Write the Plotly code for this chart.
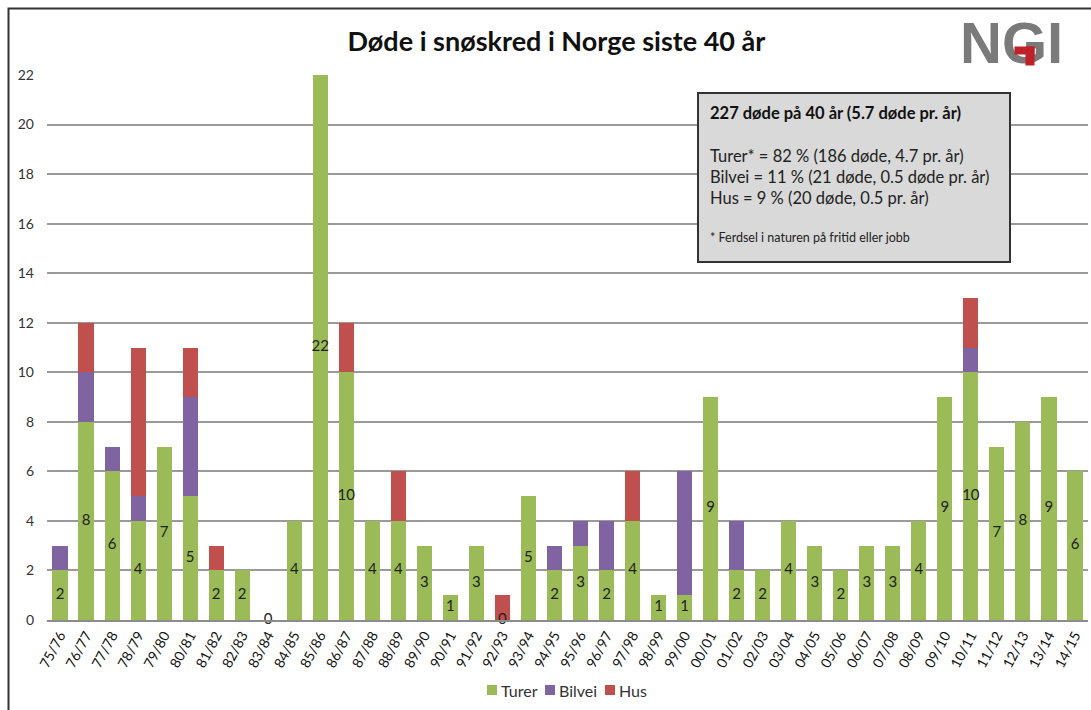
import plotly.graph_objs as go

# Data: deaths in snow avalanches in Norway per season
seasons = ['75/76', '76/77', '77/78', '78/79', '79/80', '80/81', '81/82', '82/83', '83/84', '84/85',
           '85/86', '86/87', '87/88', '88/89', '89/90', '90/91', '91/92', '92/93', '93/94', '94/95',
           '95/96', '96/97', '97/98', '98/99', '99/00', '00/01', '01/02', '02/03', '03/04', '04/05',
           '05/06', '06/07', '07/08', '08/09', '09/10', '10/11', '11/12', '12/13', '13/14', '14/15']
turer = [2, 8, 6, 4, 7, 5, 2, 2, 0, 4,
         22, 10, 4, 4, 3, 1, 3, 0, 5, 2,
         3, 2, 4, 1, 1, 9, 2, 2, 4, 3,
         2, 3, 3, 4, 9, 10, 7, 8, 9, 6]
bilvei = [1, 2, 1, 1, 0, 4, 0, 0, 0, 0,
          0, 0, 0, 0, 0, 0, 0, 0, 0, 1,
          1, 2, 0, 0, 5, 0, 2, 0, 0, 0,
          0, 0, 0, 0, 0, 1, 0, 0, 0, 0]
hus = [0, 2, 0, 6, 0, 2, 1, 0, 0, 0,
       0, 2, 0, 2, 0, 0, 0, 1, 0, 0,
       0, 0, 2, 0, 0, 0, 0, 0, 0, 0,
       0, 0, 0, 0, 0, 2, 0, 0, 0, 0]
y_ticks = list(range(0, 23, 2))
series_names = ['Turer', 'Bilvei', 'Hus']

summary_title = '227 døde på 40 år (5.7 døde pr. år)'
summary_lines = ['Turer* = 82 % (186 døde, 4.7 pr. år)',
                 'Bilvei = 11 % (21 døde, 0.5 døde pr. år)',
                 'Hus = 9 % (20 døde, 0.5 pr. år)']
footnote = '* Ferdsel i naturen på fritid eller jobb'

FONT = 'Lato'
COLORS = ['#9bbb59', '#8064a2', '#c0504d']

W, H = 1091, 710
ML, MR, MT, MB = 47, 3, 75, 90


# pixel -> paper coordinates (for the decorations around the plot)
def px(x):
    return (x - ML) / (W - ML - MR)


def py(y):
    return (H - MB - y) / (H - MT - MB)


fig = go.Figure()

# Stacked bars
for name, vals, col in zip(series_names, [turer, bilvei, hus], COLORS):
    fig.add_trace(go.Bar(x=seasons, y=vals, name=name, showlegend=False,
                         marker=dict(color=col, line=dict(width=0))))

# Value labels in the middle of the green part (also shows the zeros)
fig.add_trace(go.Scatter(x=seasons, y=[t / 2 for t in turer], text=[str(t) for t in turer],
                         mode='text', textfont=dict(family=FONT, size=15, color='#222222'),
                         showlegend=False, hoverinfo='skip', cliponaxis=False))

fig.update_layout(
    width=W, height=H,
    barmode='stack', bargap=0.42,
    plot_bgcolor='white', paper_bgcolor='white',
    margin=dict(l=ML, r=MR, t=MT, b=MB),
    font=dict(family=FONT, size=13, color='#333333'),
    title=dict(text='<b>Døde i snøskred i Norge siste 40 år</b>', x=0.51, xanchor='center',
               y=0.941, yanchor='middle', font=dict(family=FONT, size=27, color='#111111')),
    showlegend=False,
)

fig.update_xaxes(tickangle=-62, showgrid=False, showline=True, linecolor='#8c8c8c', linewidth=1.5,
                 tickfont=dict(family=FONT, size=14, color='#111111'), ticks='',
                 range=[-0.5, len(seasons) - 0.5])
fig.update_yaxes(range=[0, 22], tickvals=y_ticks, showgrid=True, gridcolor='#9a9a9a', gridwidth=1.5,
                 zeroline=False, showline=False, ticks='', ticklabelstandoff=12,
                 tickfont=dict(family=FONT, size=14, color='#333333'))

# Legend at the bottom (small squares + names, Excel style)
legend_x = [487, 545, 605]
for x0, name, col in zip(legend_x, series_names, COLORS):
    fig.add_shape(type='rect', xref='paper', yref='paper', x0=px(x0), x1=px(x0 + 10),
                  y0=py(695), y1=py(685), fillcolor=col, line=dict(width=0))
    fig.add_annotation(xref='paper', yref='paper', x=px(x0 + 12), y=py(690), xanchor='left',
                       yanchor='middle', text=name, showarrow=False,
                       font=dict(family=FONT, size=16, color='#333333'))

# Outer frame of the chart
fig.add_shape(type='rect', xref='paper', yref='paper', x0=px(8.5), x1=px(W + 20), y0=py(H + 20), y1=py(8.5),
              line=dict(color='#333333', width=2), fillcolor='rgba(0,0,0,0)', layer='below')

# Summary box
fig.add_shape(type='rect', xref='paper', yref='paper', x0=px(698), x1=px(1010), y0=py(262), y1=py(93),
              line=dict(color='#333333', width=2), fillcolor='#d9d9d9', layer='above')
fig.add_annotation(xref='paper', yref='paper', x=px(708), y=py(113), xanchor='left', yanchor='middle',
                   text='<b>' + summary_title + '</b>', showarrow=False,
                   font=dict(family=FONT, size=16.5, color='#111111'))
for i, line in enumerate(summary_lines):
    fig.add_annotation(xref='paper', yref='paper', x=px(708), y=py(156 + i * 21), xanchor='left',
                       yanchor='middle', text=line, showarrow=False,
                       font=dict(family=FONT, size=16.5, color='#222222'))
fig.add_annotation(xref='paper', yref='paper', x=px(708), y=py(237), xanchor='left', yanchor='middle',
                   text=footnote, showarrow=False, font=dict(family=FONT, size=12.5, color='#222222'))

# NGI logo (text + red corner drawn on top of the G)
fig.add_annotation(xref='paper', yref='paper', x=px(1011), y=py(42), xanchor='center', yanchor='middle',
                   text='<b>NGI</b>', showarrow=False,
                   font=dict(family='Liberation Sans', size=58, color='#7a7a7a'))
for x0, x1, y0, y1 in [(1014, 1033, 46, 53), (1025, 1033, 46, 64)]:
    fig.add_annotation(xref='paper', yref='paper', x=px(x0), y=py(y0), xanchor='left', yanchor='top',
                       text=' ', showarrow=False, width=x1 - x0, height=y1 - y0, borderpad=0,
                       bgcolor='#c0202a', font=dict(size=1))

# Remove the default page margin so the figure fills the window
fig.write_html('out.html', config={'displayModeBar': False},
               post_script="document.body.style.margin='0';document.body.style.overflow='hidden';")
